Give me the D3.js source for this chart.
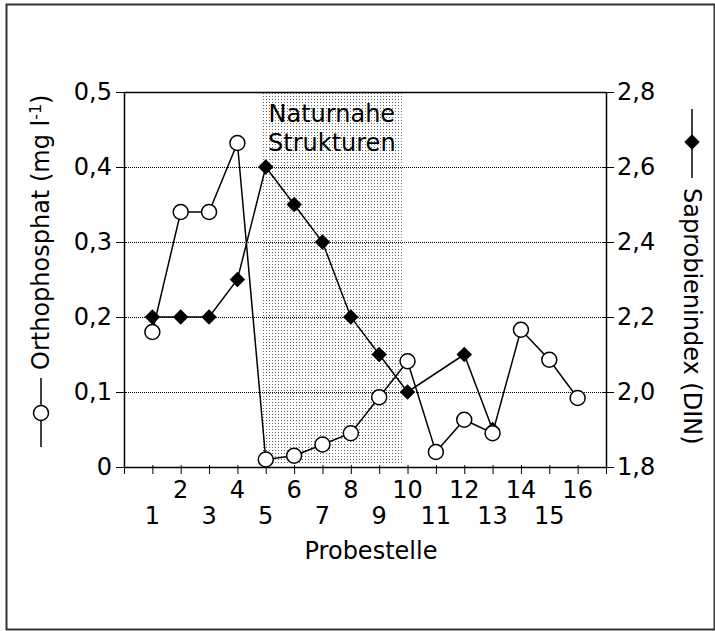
<!DOCTYPE html>
<html>
<head>
<meta charset="utf-8">
<script src="https://cdn.jsdelivr.net/npm/d3@7"></script>
<style>
	html, body { margin: 0; padding: 0; background: #fff; }
	#chart { width: 715px; height: 631px; }
	text { font-family: 'DejaVu Sans', 'Noto Sans', sans-serif; fill: #000; }
</style>
</head>
<body>
<div id="chart"></div>
<script>
'use strict';

// Probestellen 1..16
var stations = [1, 2, 3, 4, 5, 6, 7, 8, 9, 10, 11, 12, 13, 14, 15, 16];
// Orthophosphat (mg l-1)
var phosphate = [0.18, 0.34, 0.34, 0.432, 0.01, 0.015, 0.03, 0.045, 0.093, 0.141, 0.02, 0.063, 0.045, 0.183, 0.143, 0.092];
// Saprobienindex (DIN), null = nicht gemessen
var saprobic = [2.2, 2.2, 2.2, 2.3, 2.6, 2.5, 2.4, 2.2, 2.1, 2.0, null, 2.1, 1.9, null, null, null];

var leftTicks = [0, 0.1, 0.2, 0.3, 0.4, 0.5];
var rightTicks = [1.8, 2.0, 2.2, 2.4, 2.6, 2.8];
var shadedRange = [4.86, 9.8];
var shadedLabel = ['Naturnahe', 'Strukturen'];

var el = document.getElementById('chart');
var margin = {top: 92, right: 109, bottom: 164, left: 124};
var width = 715 - margin.left - margin.right;
var height = 631 - margin.top - margin.bottom;
var fontSize = 24;

var root = d3.select(el).append('svg')
	.attr('width', 715)
	.attr('height', 631);

// outer frame
root.append('rect')
	.attr('x', 6.5).attr('y', 4.5)
	.attr('width', 708).attr('height', 625)
	.attr('fill', 'none')
	.attr('stroke', '#333')
	.attr('stroke-width', 2);

var defs = root.append('defs');
var pat = defs.append('pattern')
	.attr('id', 'stipple')
	.attr('patternUnits', 'userSpaceOnUse')
	.attr('width', 3).attr('height', 3);
pat.append('rect')
	.attr('x', 1).attr('y', 1)
	.attr('width', 1).attr('height', 1)
	.attr('fill', '#666');

var svg = root.append('g')
	.attr('transform', 'translate(' + margin.left + ',' + margin.top + ')');

var xScale = d3.scaleLinear().domain([0, 17]).range([0, width]);
var yLeft = d3.scaleLinear().domain([0, 0.5]).range([height, 0]);
var yRight = d3.scaleLinear().domain([1.8, 2.8]).range([height, 0]);

// shaded section
svg.append('rect')
	.attr('x', xScale(shadedRange[0]))
	.attr('y', 0)
	.attr('width', xScale(shadedRange[1]) - xScale(shadedRange[0]))
	.attr('height', height - 2)
	.attr('fill', 'url(#stipple)');

svg.append('text')
	.attr('text-anchor', 'middle')
	.attr('font-size', fontSize)
	.selectAll('tspan')
	.data(shadedLabel)
	.enter()
	.append('tspan')
	.attr('x', xScale((shadedRange[0] + shadedRange[1]) / 2))
	.attr('y', function(d, i){ return 30 + i * 29; })
	.text(function(d){ return d; });

// dotted grid
svg.append('g')
	.selectAll('line')
	.data(leftTicks.filter(function(d){ return d > 0 && d < 0.5; }))
	.enter()
	.append('line')
	.attr('x1', 0).attr('x2', width)
	.attr('y1', function(d){ return Math.round(yLeft(d)) + 0.5; })
	.attr('y2', function(d){ return Math.round(yLeft(d)) + 0.5; })
	.attr('stroke', '#000')
	.attr('stroke-width', 1)
	.attr('stroke-dasharray', '1,1');

// top frame line
svg.append('line')
	.attr('x1', 0).attr('x2', width)
	.attr('y1', 0.5).attr('y2', 0.5)
	.attr('stroke', '#000').attr('stroke-width', 1.5);

// axes
var fmt = function(d){ return d3.format('.1f')(d).replace('.', ','); };

var axisLeft = svg.append('g')
	.call(d3.axisLeft(yLeft).tickValues(leftTicks).tickSizeInner(8).tickSizeOuter(0).tickPadding(4)
		.tickFormat(function(d){ return d === 0 ? '0' : fmt(d); }));

var axisRight = svg.append('g')
	.attr('transform', 'translate(' + width + ',0)')
	.call(d3.axisRight(yRight).tickValues(rightTicks).tickSizeInner(8).tickSizeOuter(0).tickPadding(3)
		.tickFormat(fmt));

var axisBottom = svg.append('g')
	.attr('transform', 'translate(0,' + height + ')')
	.call(d3.axisBottom(xScale).tickValues(d3.range(0, 18)).tickSizeInner(7).tickSizeOuter(0).tickFormat(''));

[axisLeft, axisRight, axisBottom].forEach(function(a){
	a.select('.domain').attr('stroke', '#000').attr('stroke-width', 1.5);
	a.selectAll('.tick line').attr('stroke', '#000').attr('stroke-width', 1);
	a.selectAll('.tick text').attr('font-size', fontSize).attr('font-family', null).attr('fill', '#000');
});
// crossing ticks on the left axis
axisLeft.selectAll('.tick line').attr('x2', -8).attr('x1', 3);
axisRight.selectAll('.tick line').attr('x1', -3);
axisBottom.selectAll('.tick line').attr('y1', -2);

// staggered station labels
svg.append('g')
	.attr('transform', 'translate(0,' + height + ')')
	.selectAll('text')
	.data(stations)
	.enter()
	.append('text')
	.attr('x', function(d){ return xScale(d); })
	.attr('y', function(d){ return d % 2 === 0 ? 31 : 57; })
	.attr('text-anchor', 'middle')
	.attr('font-size', fontSize)
	.text(function(d){ return d; });

svg.append('text')
	.attr('x', width / 2 + 6)
	.attr('y', height + 92)
	.attr('text-anchor', 'middle')
	.attr('font-size', fontSize)
	.text('Probestelle');

// series lines
var phosData = stations.map(function(s, i){ return {x: s, y: phosphate[i]}; });
var sapData = stations.map(function(s, i){ return {x: s, y: saprobic[i]}; })
	.filter(function(d){ return d.y !== null; });

var phosLine = d3.line()
	.x(function(d){ return xScale(d.x); })
	.y(function(d){ return yLeft(d.y); });
var sapLine = d3.line()
	.x(function(d){ return xScale(d.x); })
	.y(function(d){ return yRight(d.y); });

svg.append('path')
	.datum(sapData)
	.attr('d', sapLine)
	.attr('fill', 'none')
	.attr('stroke', '#000')
	.attr('stroke-width', 1.5);

svg.append('path')
	.datum(phosData)
	.attr('d', phosLine)
	.attr('fill', 'none')
	.attr('stroke', '#000')
	.attr('stroke-width', 1.5);

var diamond = d3.symbol().type(d3.symbolSquare).size(120);

svg.append('g')
	.selectAll('path')
	.data(sapData)
	.enter()
	.append('path')
	.attr('d', diamond)
	.attr('transform', function(d){ return 'translate(' + xScale(d.x) + ',' + yRight(d.y) + ') rotate(45)'; })
	.attr('fill', '#000');

svg.append('g')
	.selectAll('circle')
	.data(phosData)
	.enter()
	.append('circle')
	.attr('cx', function(d){ return xScale(d.x); })
	.attr('cy', function(d){ return yLeft(d.y); })
	.attr('r', 7.5)
	.attr('fill', '#fff')
	.attr('stroke', '#000')
	.attr('stroke-width', 1.5);

// left axis title with legend symbol
var leftLegend = root.append('g').attr('transform', 'translate(41,0)');
leftLegend.append('line')
	.attr('x1', 0).attr('x2', 0).attr('y1', 378).attr('y2', 447)
	.attr('stroke', '#000').attr('stroke-width', 1.5);
leftLegend.append('circle')
	.attr('cx', 0).attr('cy', 413).attr('r', 7.5)
	.attr('fill', '#fff').attr('stroke', '#000').attr('stroke-width', 1.5);
var leftTitle = leftLegend.append('text')
	.attr('transform', 'translate(8,370) rotate(-90)')
	.attr('font-size', fontSize);
leftTitle.append('tspan').text('Orthophosphat (mg l');
leftTitle.append('tspan').attr('font-size', 16).attr('dy', -8).text('-1');
leftTitle.append('tspan').attr('dy', 8).text(')');

// right axis title with legend symbol
var rightLegend = root.append('g').attr('transform', 'translate(692,0)');
rightLegend.append('line')
	.attr('x1', 0).attr('x2', 0).attr('y1', 109).attr('y2', 178)
	.attr('stroke', '#000').attr('stroke-width', 1.5);
rightLegend.append('path')
	.attr('d', diamond)
	.attr('transform', 'translate(0,142) rotate(45)')
	.attr('fill', '#000');
rightLegend.append('text')
	.attr('transform', 'translate(-8,188) rotate(90)')
	.attr('font-size', fontSize)
	.text('Saprobienindex (DIN)');
</script>
</body>
</html>
